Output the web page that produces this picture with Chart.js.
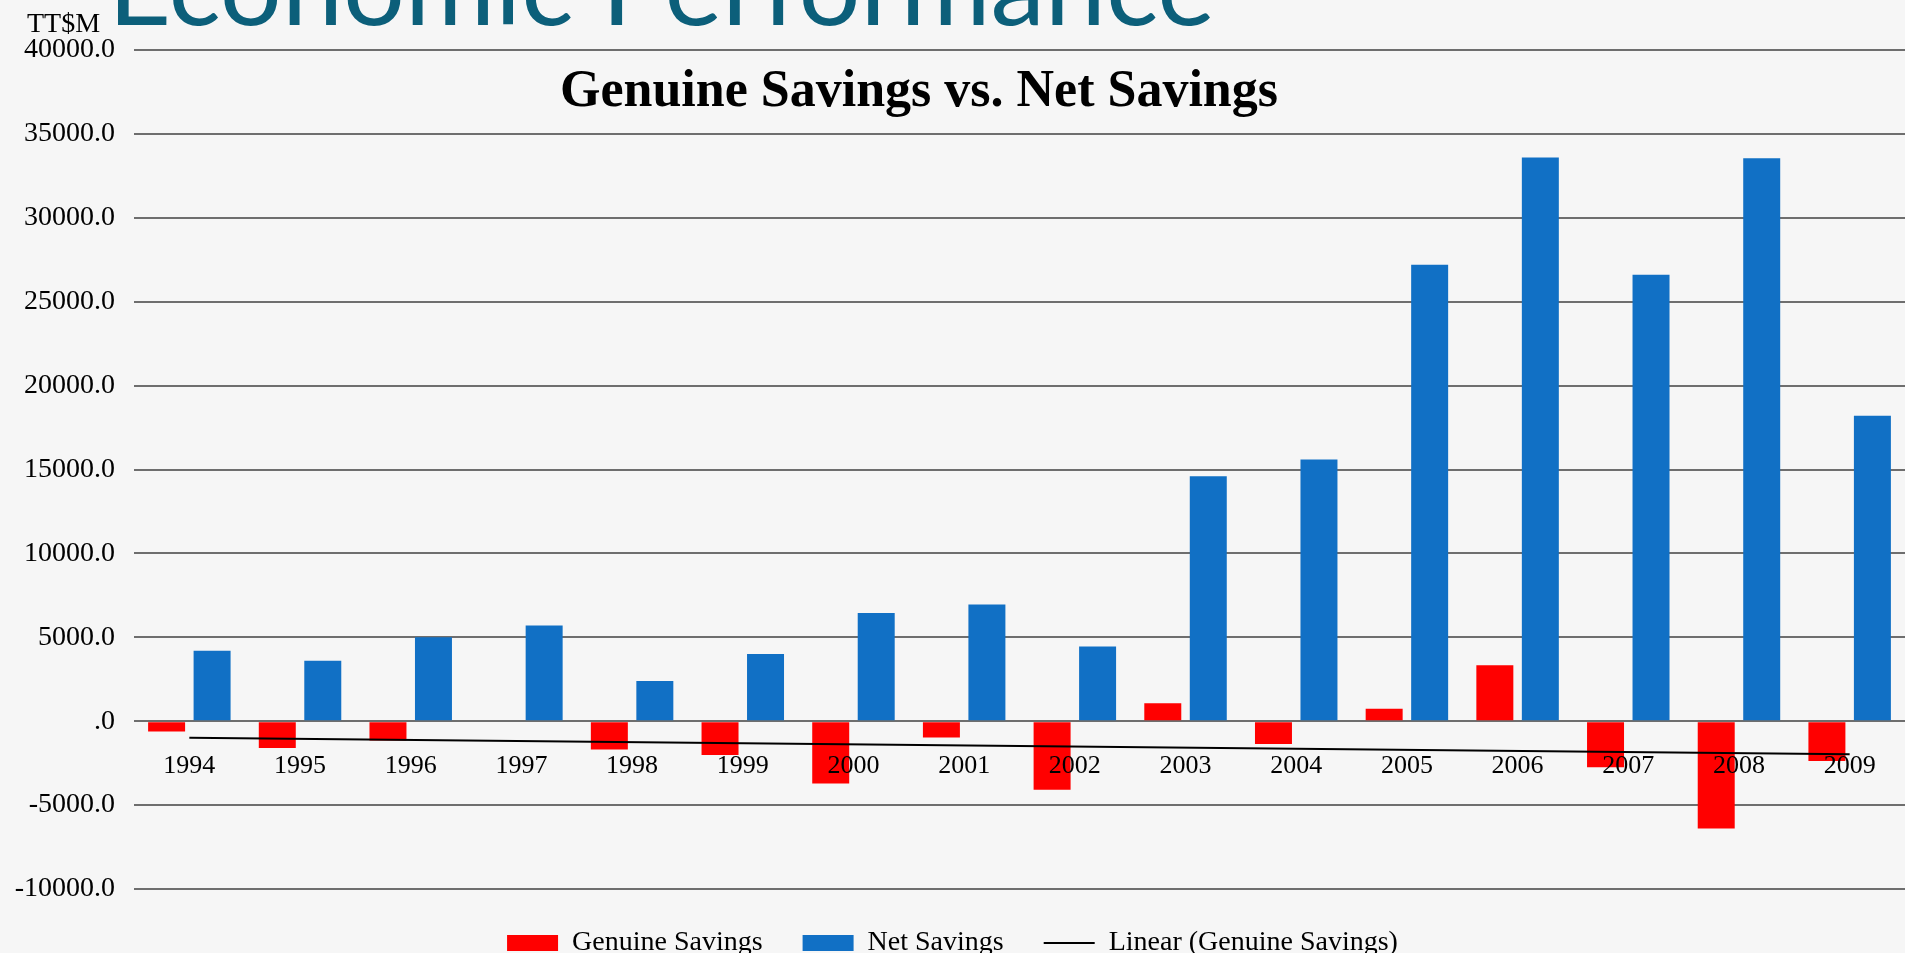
<!DOCTYPE html>
<html>
<head>
<meta charset="utf-8">
<title>Genuine Savings vs. Net Savings</title>
<script src="https://cdn.jsdelivr.net/npm/chart.js@4.4.1/dist/chart.umd.min.js"></script>
<style>
html, body {margin: 0; padding: 0; background: #f6f6f6; overflow: hidden;}
#chartSavings {display: block;}
</style>
</head>
<body>
<canvas id="chartSavings" width="1905" height="953"></canvas>
<script>
/*Genuine vs net savings, TT$M, 1994-2009*/
const years = ["1994", "1995", "1996", "1997", "1998", "1999", "2000", "2001",
               "2002", "2003", "2004", "2005", "2006", "2007", "2008", "2009"];
const genuineSavings = [-620, -1590, -1155, -60, -1690, -2010, -3720, -975,
                        -4080, 1075, -1355, 740, 3340, -2750, -6390, -2370];
const netSavings = [4200, 3600, 5000, 5700, 2400, 4000, 6450, 6950,
                    4450, 14600, 15600, 27200, 33600, 26600, 33550, 18200];
// the linear trend only has its two ends, the line joins them
const trendGenuine = [-990, null, null, null, null, null, null, null,
                      null, null, null, null, null, null, null, -1965];
const slideTitle = "Economic Performance";
const chartTitle = "Genuine Savings vs. Net Savings";
const unitLabel = "TT$M";

const SERIF = "'Liberation Serif', serif";

// texts that sit on top of the plot (slide heading, unit, chart title)
const textOverlay = {
    id: "textOverlay",
    afterDraw(chart) {
        let ctx = chart.ctx;
        ctx.save();
        ctx.textBaseline = "alphabetic";
        // slide heading, mostly cut off by the top edge
        ctx.textAlign = "left";
        let size = 110;
        ctx.font = size + "px Lato, sans-serif";
        size = size * 1107 / ctx.measureText(slideTitle).width;
        ctx.font = size + "px Lato, sans-serif";
        ctx.fillStyle = "#0c5f7a";
        ctx.fillText(slideTitle, 108, 25);
        // unit
        ctx.fillStyle = "#000";
        ctx.font = "28px " + SERIF;
        ctx.fillText(unitLabel, 27, 32);
        // chart title
        ctx.textAlign = "center";
        ctx.font = "bold 52px " + SERIF;
        ctx.fillText(chartTitle, 919, 106);
        ctx.restore();
    }
};

var ctxSavings = document.getElementById("chartSavings").getContext("2d");
var chartSavings = new Chart(ctxSavings, {
    type: "bar",
    data: {
        labels: years,
        datasets: [
            {
                label: "Genuine Savings",
                data: genuineSavings,
                backgroundColor: "#ff0000",
                borderWidth: 0,
                pointStyle: "rect",
                order: 1
            },
            {
                label: "Net Savings",
                data: netSavings,
                backgroundColor: "#1170c5",
                borderWidth: 0,
                pointStyle: "rect",
                order: 1
            },
            {
                type: "line",
                label: "Linear (Genuine Savings)",
                data: trendGenuine,
                borderColor: "#000000",
                borderWidth: 2,
                pointRadius: 0,
                pointBorderWidth: 2,
                pointBorderColor: "#000000",
                pointStyle: "line",
                spanGaps: true,
                fill: false,
                order: 0
            }
        ]
    },
    options: {
        responsive: false,
        animation: false,
        layout: {padding: {top: 50, left: 0, right: 0, bottom: -14}},
        datasets: {bar: {categoryPercentage: 0.822, barPercentage: 0.813}},
        scales: {
            x: {
                position: {y: 0},
                grid: {display: false, drawTicks: false},
                border: {display: false},
                ticks: {
                    z: 1, // year labels go over the bars
                    color: "#000",
                    padding: 29,
                    maxRotation: 0,
                    autoSkip: false,
                    font: {family: SERIF, size: 26}
                }
            },
            y: {
                min: -10000,
                max: 40000,
                afterFit: function (scale) { scale.width = 134; },
                grid: {color: "#6e6e6e", lineWidth: 2, drawTicks: false},
                border: {display: false},
                ticks: {
                    stepSize: 5000,
                    padding: 19,
                    color: "#000",
                    font: {family: SERIF, size: 28},
                    callback: function (val) { return val === 0 ? ".0" : val.toFixed(1); }
                }
            }
        },
        plugins: {
            legend: {
                position: "bottom",
                labels: {
                    usePointStyle: true,
                    pointStyleWidth: 51,
                    boxHeight: 16,
                    padding: 40,
                    color: "#000",
                    font: {family: SERIF, size: 28},
                    sort: function (a, b) { return a.datasetIndex - b.datasetIndex; }
                }
            },
            tooltip: {enabled: false}
        }
    },
    plugins: [textOverlay]
});
</script>
</body>
</html>
